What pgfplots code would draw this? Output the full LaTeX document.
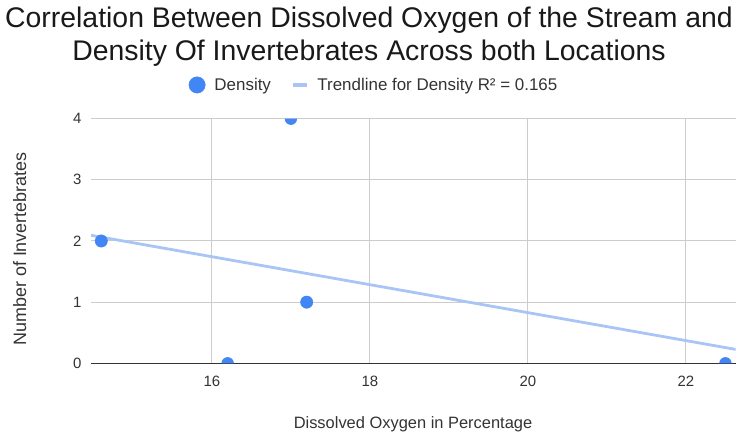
\documentclass[border=0pt]{standalone}
\usepackage{pgfplots}
\pgfplotsset{compat=1.18}
\usepackage{fontspec}
\setmainfont{Liberation Sans}
\definecolor{dot}{HTML}{4285F4}
\definecolor{trend}{HTML}{A8C5F5}
\definecolor{txt}{HTML}{333333}
\definecolor{grd}{HTML}{CCCCCC}
\pgfdeclareplotmark{halfup}{%
  \pgfpathmoveto{\pgfqpoint{\pgfplotmarksize}{0pt}}%
  \pgfpatharc{0}{180}{\pgfplotmarksize}%
  \pgfpathclose\pgfusepathqfill}
\pgfdeclareplotmark{halfdown}{%
  \pgfpathmoveto{\pgfqpoint{-\pgfplotmarksize}{0pt}}%
  \pgfpatharc{180}{360}{\pgfplotmarksize}%
  \pgfpathclose\pgfusepathqfill}
\begin{document}
\begin{tikzpicture}[x=1bp,y=1bp]
\useasboundingbox (0,0) rectangle (738,433);
\node[font=\fontsize{28.5}{33}\selectfont, anchor=base, text=black!90, inner sep=0pt] at (369,405)
  {Correlation Between Dissolved Oxygen of the Stream and};
\node[font=\fontsize{28.5}{33}\selectfont, anchor=base, text=black!90, inner sep=0pt] at (369,372)
  {Density Of Invertebrates Across both Locations};
\node[font=\fontsize{18}{20}\selectfont, rotate=90, anchor=base, text=txt, inner sep=0pt] at (26,184) {Number of Invertebrates};
\node[font=\fontsize{16.5}{18}\selectfont, anchor=base, text=txt, inner sep=0pt] at (413,4.7) {Dissolved Oxygen in Percentage};
\begin{axis}[
  at={(91bp,69.7bp)}, anchor=south west,
  width=644.7bp, height=244.6bp, scale only axis,
  xmin=14.47, xmax=22.63, ymin=0, ymax=4,
  xtick={16,18,20,22}, ytick={0,1,2,3,4},
  grid=major, major grid style={grd, line width=1pt},
  axis lines*=left,
  y axis line style={draw=none},
  x axis line style={draw=txt, line width=1.3pt, -},
  major tick length=0pt,
  tick label style={font=\fontsize{15}{17}\selectfont, text=txt},
  /pgf/number format/assume math mode=true,
  xticklabel style={anchor=center, yshift=-17.7bp},
  yticklabel style={anchor=east, xshift=-6bp},
  clip=true,
  legend style={at={(0.439,1.138)}, anchor=center, draw=none, fill=none,
    font=\fontsize{17}{19}\selectfont, text=txt, legend columns=-1,
    /tikz/every odd column/.append style={column sep=7bp},
    /tikz/every even column/.append style={column sep=18bp}},
]
\addplot[trend, line width=2.8bp, forget plot] coordinates {(14.47,2.093) (22.63,0.227)};
% points inside the plot area
\addplot[only marks, mark=*, mark size=6.2bp, draw=dot, fill=dot, forget plot] coordinates {
  (14.6,2) (17.2,1)};
% points on the lower edge (y = 0), cut by the plot area
\addplot[only marks, mark=halfup, mark size=6.2bp, draw=none, fill=dot, forget plot] coordinates {
  (16.2,0) (22.5,0)};
% point on the upper edge (y = 4), cut by the plot area
\addplot[only marks, mark=halfdown, mark size=6.2bp, draw=none, fill=dot, forget plot] coordinates {
  (17.0,4)};
\addlegendimage{legend image code/.code={\fill[dot] (8.2bp,0bp) circle (8.2bp);}}
\addlegendentry{Density}
\addlegendimage{legend image code/.code={\draw[trend, line width=3.5bp] (0bp,0bp) -- (14bp,0bp);}}
\addlegendentry{Trendline for Density R² = 0.165}
\end{axis}
\end{tikzpicture}
\end{document}
